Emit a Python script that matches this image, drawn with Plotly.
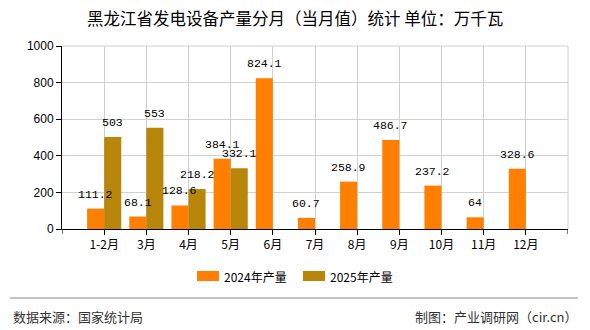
import plotly.graph_objects as go

title_text = "黑龙江省发电设备产量分月（当月值）统计 单位：万千瓦"
categories = ["1-2月", "3月", "4月", "5月", "6月", "7月", "8月", "9月", "10月", "11月", "12月"]
series_names = ["2024年产量", "2025年产量"]
values_2024 = [111.2, 68.1, 128.6, 384.1, 824.1, 60.7, 258.9, 486.7, 237.2, 64, 328.6]
values_2025 = [503, 553, 218.2, 332.1, None, None, None, None, None, None, None]
y_ticks = [0, 200, 400, 600, 800, 1000]
source_text = "数据来源：国家统计局"
credit_text = "制图：产业调研网（cir.cn）"

colors = ["#FF8000", "#B8860B"]
W, H = 590, 330
L, R, T, B = 62, 22, 46, 101
pw, ph = W - L - R, H - T - B

def px_x(px):
    return (px - L) / pw

def px_y(py):
    return (H - B - py) / ph

cjk = "Noto Sans CJK SC"
mono = "Liberation Mono"

fig = go.Figure()
for name, vals, col in zip(series_names, [values_2024, values_2025], colors):
    fig.add_trace(go.Bar(x=categories, y=vals, name=name, marker=dict(color=col, line=dict(width=0)),
                         showlegend=False, hoverinfo="skip"))

annotations = []
# data labels
bar_px = 0.81 * pw / 12 / 2
for k, vals in enumerate([values_2024, values_2025]):
    shift = -bar_px / 2 if k == 0 else bar_px / 2
    for c, v in zip(categories, vals):
        if v is None:
            continue
        annotations.append(dict(x=c, y=v, xref="x", yref="y", text=f"{v:g}", showarrow=False,
                                xshift=shift, yshift=6, yanchor="bottom",
                                font=dict(family=mono, size=11.5, color="#000")))

# title
annotations.append(dict(x=px_x(W / 2), y=px_y(18), xref="paper", yref="paper", text=title_text,
                        showarrow=False, xanchor="center", yanchor="middle",
                        font=dict(family=cjk, size=16.5, color="#000")))

# legend (manual)
shapes = []
leg = [(197, 219, 222), (303, 325, 328)]
for (x0, x1, tx), name, col in zip(leg, series_names, colors):
    shapes.append(dict(type="rect", xref="paper", yref="paper", x0=px_x(x0), x1=px_x(x1),
                       y0=px_y(281), y1=px_y(271), fillcolor=col, line=dict(width=0)))
    annotations.append(dict(x=px_x(tx), y=px_y(276), xref="paper", yref="paper", text=name,
                            showarrow=False, xanchor="left", yanchor="middle",
                            font=dict(family=cjk, size=12, color="#000")))

# separator and footer
shapes.append(dict(type="line", xref="paper", yref="paper", x0=px_x(10), x1=px_x(578),
                   y0=px_y(298), y1=px_y(298), line=dict(color="#888888", width=1)))
annotations.append(dict(x=px_x(11), y=px_y(316), xref="paper", yref="paper", text=source_text,
                        showarrow=False, xanchor="left", yanchor="middle",
                        font=dict(family=cjk, size=13, color="#333")))
annotations.append(dict(x=px_x(579), y=px_y(316), xref="paper", yref="paper", text=credit_text,
                        showarrow=False, xanchor="right", yanchor="middle",
                        font=dict(family=cjk, size=13, color="#333")))

# plot frame (top / right light gray)
shapes.append(dict(type="line", xref="paper", yref="paper", x0=0, x1=1, y0=1, y1=1,
                   line=dict(color="#D0D0D0", width=1), layer="below"))
shapes.append(dict(type="line", xref="paper", yref="paper", x0=1, x1=1, y0=0, y1=1,
                   line=dict(color="#D0D0D0", width=1), layer="below"))
# end ticks on x axis
for xv in [-1, len(categories)]:
    shapes.append(dict(type="line", xref="x", yref="paper", x0=xv, x1=xv, y0=0, y1=-5 / ph,
                       line=dict(color="#000", width=1)))

fig.update_layout(
    width=W, height=H,
    margin=dict(l=L, r=R, t=T, b=B),
    paper_bgcolor="white", plot_bgcolor="white",
    barmode="group", bargap=0.19, bargroupgap=0,
    annotations=annotations, shapes=shapes,
    font=dict(family=cjk, color="#000"),
    xaxis=dict(type="category", range=[-1, len(categories)], showgrid=True, gridcolor="#D0D0D0",
               showline=True, linecolor="#000", linewidth=1, ticks="outside", ticklen=5,
               tickcolor="#000", tickfont=dict(family=cjk, size=12, color="#000"), zeroline=False,
               fixedrange=True),
    yaxis=dict(range=[0, 1000], tickvals=y_ticks, showgrid=True, gridcolor="#D0D0D0",
               showline=True, linecolor="#000", linewidth=1, ticks="outside", ticklen=5,
               tickcolor="#000", tickfont=dict(family="Liberation Sans", size=12, color="#000"),
               zeroline=False, fixedrange=True),
)

fig.write_html("out.html")
